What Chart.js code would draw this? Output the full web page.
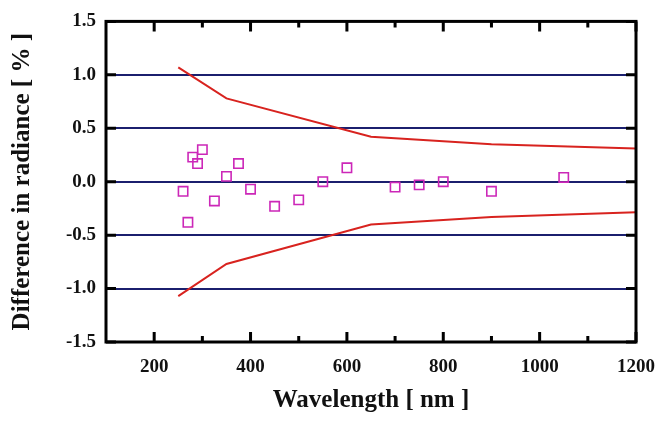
<!DOCTYPE html>
<html>
<head>
<meta charset="utf-8">
<script src="https://cdn.jsdelivr.net/npm/chart.js@4.4.0/dist/chart.umd.min.js"></script>
<style>
   html, body { margin: 0; padding: 0; background: #fff; }
   #wrap { width: 661px; height: 421px; }
</style>
</head>
<body>
<div id="wrap"><canvas id="radiance" width="661" height="421"></canvas></div>
<script>
// measured differences (squares)
let pointWavelength = [260, 270, 280, 290, 300, 325, 350, 375, 400, 450, 500, 550, 600, 700, 750, 800, 900, 1050];
let pointDiff = [-0.09, -0.38, 0.23, 0.17, 0.30, -0.18, 0.05, 0.17, -0.07, -0.23, -0.17, 0.0, 0.13, -0.05, -0.03, 0.0, -0.09, 0.04];

// uncertainty envelope (red lines)
let boundWavelength = [250, 350, 650, 900, 1200];
let upperBound = [1.07, 0.78, 0.42, 0.35, 0.31];
let lowerBound = [-1.07, -0.77, -0.40, -0.33, -0.285];

let xTicks = [200, 400, 600, 800, 1000, 1200];
let xMinorTicks = [300, 500, 700, 900, 1100];
let yTicks = [-1.5, -1.0, -0.5, 0.0, 0.5, 1.0, 1.5];

const toXY = (xs, ys) => xs.map((x, i) => ({x: x, y: ys[i]}));

const frame = {
   id: "frame",
   afterDraw(chart) {
      const {ctx, chartArea: a, scales} = chart;
      ctx.save();
      ctx.strokeStyle = "#000";
      ctx.lineWidth = 3;
      ctx.strokeRect(a.left, a.top, a.right - a.left, a.bottom - a.top);
      ctx.beginPath();
      xTicks.forEach((v) => {
         const px = scales.x.getPixelForValue(v);
         ctx.moveTo(px, a.top); ctx.lineTo(px, a.top + 10);
         ctx.moveTo(px, a.bottom); ctx.lineTo(px, a.bottom - 10);
      });
      xMinorTicks.forEach((v) => {
         const px = scales.x.getPixelForValue(v);
         ctx.moveTo(px, a.top); ctx.lineTo(px, a.top + 6);
         ctx.moveTo(px, a.bottom); ctx.lineTo(px, a.bottom - 6);
      });
      yTicks.forEach((v) => {
         const py = scales.y.getPixelForValue(v);
         ctx.moveTo(a.left, py); ctx.lineTo(a.left + 10, py);
         ctx.moveTo(a.right, py); ctx.lineTo(a.right - 10, py);
      });
      ctx.stroke();
      ctx.restore();
   },
};

const ctx = document.getElementById("radiance").getContext("2d");
const myChart = new Chart(ctx, {
   type: "scatter",
   data: {
      datasets: [
         {
            type: "line",
            data: toXY(boundWavelength, upperBound),
            borderColor: "#d8231f",
            borderWidth: 2,
            pointRadius: 0,
            fill: false,
            tension: 0,
         },
         {
            type: "line",
            data: toXY(boundWavelength, lowerBound),
            borderColor: "#d8231f",
            borderWidth: 2,
            pointRadius: 0,
            fill: false,
            tension: 0,
         },
         {
            data: toXY(pointWavelength, pointDiff),
            pointStyle: "rect",
            pointRadius: 6.6,
            borderColor: "#cc27b8",
            backgroundColor: "rgba(255,255,255,0)",
            borderWidth: 1.6,
         },
      ],
   },
   options: {
      responsive: false,
      animation: false,
      events: [],
      layout: {padding: {top: 15, right: 24, left: 0, bottom: 0}},
      scales: {
         x: {
            type: "linear",
            min: 100,
            max: 1200,
            afterBuildTicks: (scale) => {
               scale.ticks = xTicks.map((v) => ({value: v}));
            },
            afterFit: (scale) => { scale.height = 79; },
            grid: {display: false},
            border: {display: false},
            ticks: {
               color: "#111",
               padding: 6,
               maxRotation: 0,
               font: {family: "Liberation Serif", size: 19, weight: "bold"},
               callback: (v) => String(v),
            },
            title: {
               display: true,
               text: "Wavelength [ nm ]",
               color: "#111",
               padding: {top: 0, bottom: 5},
               font: {family: "Liberation Serif", size: 25, weight: "bold"},
            },
         },
         y: {
            type: "linear",
            min: -1.5,
            max: 1.5,
            afterBuildTicks: (scale) => {
               scale.ticks = yTicks.map((v) => ({value: v}));
            },
            afterFit: (scale) => { scale.width = 106; },
            grid: {
               drawTicks: false,
               lineWidth: 2,
               color: (c) => (c.tick && Math.abs(c.tick.value) > 1.2 ? "rgba(0,0,0,0)" : "#1b1f6e"),
            },
            border: {display: false},
            ticks: {
               color: "#111",
               padding: 10,
               font: {family: "Liberation Serif", size: 19, weight: "bold"},
               callback: (v) => Number(v).toFixed(1),
            },
            title: {
               display: true,
               text: "Difference in radiance [ % ]",
               color: "#111",
               padding: {top: 8, bottom: 0},
               font: {family: "Liberation Serif", size: 25, weight: "bold"},
            },
         },
      },
      plugins: {
         legend: {display: false},
         tooltip: {enabled: false},
      },
   },
   plugins: [frame],
});
</script>
</body>
</html>
